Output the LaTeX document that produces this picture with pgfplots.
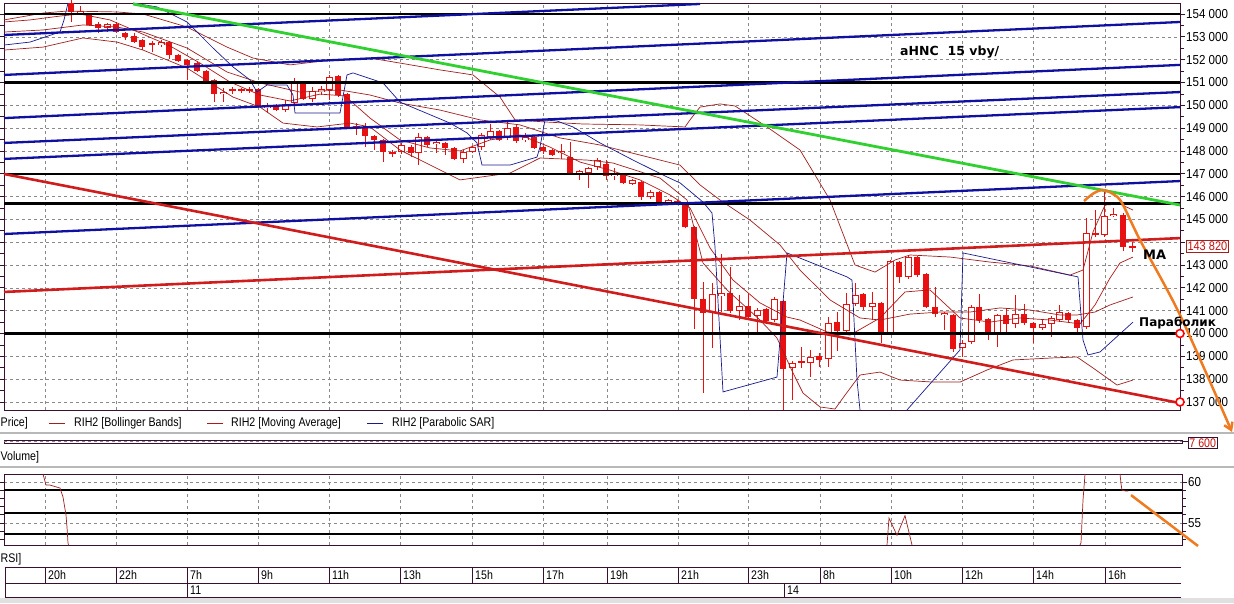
\documentclass[border=0pt]{standalone}
\usepackage{fontspec}
\setmainfont{Liberation Sans}
\newfontfamily\dvs{DejaVu Sans}
\usepackage{graphicx}
\usepackage{pgfplots}
\pgfplotsset{compat=1.18}
\usepackage{pgfplotstable}
\usetikzlibrary{arrows.meta}

\definecolor{frame}{HTML}{3A1030}
\definecolor{cred}{HTML}{E81010}
\definecolor{bbred}{HTML}{A02020}
\definecolor{sar}{HTML}{1A1A90}
\definecolor{tblue}{HTML}{1010A0}
\definecolor{tgreen}{HTML}{30D030}
\definecolor{tred}{HTML}{D01C1C}
\definecolor{orng}{HTML}{F07A20}
\definecolor{gridc}{HTML}{8A8A8A}
\definecolor{sepgray}{HTML}{B8B8B8}

\newcommand\lgf{\fontsize{12.5}{13}\selectfont}
\newcommand\ct[1]{\scalebox{0.85}[1]{\lgf #1}}
\newcommand\tl[1]{\scalebox{0.89}[1]{#1}}

% bearish candles: x open high low close
\pgfplotstableread{
x o h l c
71 154480 154610 153650 154090
89 153960 154000 153470 153520
98 153560 153650 153170 153390
116 153560 153650 153170 153210
125 153170 153210 152860 152990
134 153040 153170 152730 152770
142 152860 152900 152420 152550
152 152730 152820 152330 152640
169 152770 152820 152030 152200
178 152200 152250 151900 151940
187 151980 152030 151110 151770
197 151850 151900 151460 151500
206 151500 151550 150930 151020
214 151110 151150 150140 150490
258 150710 150760 149880 149920
276 150010 150060 149750 149790
303 151020 151060 150230 150280
338 151280 151330 150360 150450
347 150490 150540 148960 149000
365 149000 149220 148170 148650
374 148650 148700 148040 148480
383 148480 148520 147510 147950
411 148170 148260 147730 147910
427 148610 148650 148170 148260
445 148350 148390 147820 148130
454 148130 148170 147600 147650
499 148870 148920 148430 148480
516 149050 149180 148350 148430
534 148610 148650 148080 148130
543 148170 148220 147870 148000
552 148040 148080 147780 147820
570 147730 148390 146990 147030
606 147430 147600 146730 146900
623 146990 147030 146550 146590
641 146640 146680 145850 145980
659 146200 146240 145670 145760
677 145810 145850 145630 145670
685 145630 145670 144620 144670
694 144670 144710 140200 141510
703 141510 142260 137390 140900
730 141770 142910 140900 140990
748 141200 141730 140630 140720
766 141070 141120 140460 140550
783 141420 141470 136650 138440
819 139010 139150 138530 138840
837 140500 140940 139230 140110
863 141730 141770 141030 141160
881 141340 141380 139580 140020
899 143130 143180 142210 142480
917 143350 143400 142480 142560
926 142610 142650 141120 141160
935 141160 142040 140720 140850
953 140810 140850 139190 139320
979 141160 141730 140460 140590
988 140630 140680 139710 140020
1006 140810 141120 139930 140420
1024 140850 141290 140370 140460
1033 140460 140500 139580 140240
1068 140900 140940 140460 140590
1077 140590 140630 140070 140240
1123 145190 145280 143610 143790
}\bear

% bullish candles: x open high low close
\pgfplotstableread{
x o h l c
80 154040 154350 153960 154130
107 153390 153610 153210 153560
161 152640 152860 152550 152770
223 150490 150760 150140 150580
232 150630 150800 150490 150710
241 150630 150760 150540 150710
249 150630 150800 150540 150710
267 149880 150100 149660 149970
285 149790 150230 149710 150060
294 150100 151200 150010 151020
312 150280 150800 150140 150630
321 150580 150840 150450 150710
329 150670 151330 150230 151240
356 149000 149220 148700 149090
392 147870 148040 147730 147950
401 147950 148350 147870 148260
418 147910 148790 147380 148610
436 148300 148430 147910 148390
463 147650 148040 147470 147950
472 147950 148220 147910 148170
481 148170 148790 148040 148700
490 148610 149180 148480 148870
507 148610 149270 148480 149000
525 148480 148790 148390 148610
561 147910 148300 147650 148000
579 147030 147160 146730 147120
588 147030 147300 146380 147250
597 147300 147690 147160 147600
614 146900 147250 146730 147030
632 146550 146770 146510 146730
650 145980 146290 145890 146200
668 145760 145890 145720 145850
712 140940 142210 139360 141730
721 141640 143480 140940 141770
739 140990 141690 140590 141200
757 140770 141120 140020 141030
774 140590 141600 140500 141510
792 138490 138790 137090 138710
801 138710 139410 138490 138790
810 138710 139280 138090 138970
828 138880 140720 138530 140460
846 140110 141770 140020 141290
855 141290 142210 141200 141690
872 141160 141820 140590 141340
890 140020 143220 139930 143180
908 142480 143400 142390 143350
944 140810 140940 140150 140900
962 139360 139710 138970 139580
971 139630 141250 139540 141160
997 140020 140850 139410 140810
1015 140420 141690 140240 140850
1042 140240 140630 140150 140420
1051 140420 140770 139850 140680
1059 140590 141250 140500 140940
1086 140280 145060 140200 144400
1095 144320 145410 144230 144400
1104 144320 146200 144230 145150
1113 145150 145500 145100 145240
1132 143750 144010 143570 143820
}\bull

\pgfplotsset{
  chartaxis/.style={
    scale only axis, clip=false,
    scaled y ticks=false, scaled x ticks=false,
    axis line style={frame, line width=0.8pt},
    tick style={frame, line width=0.7pt},
    tick align=outside, ytick pos=both, yticklabel pos=right,
    major tick length=5pt, minor tick length=4pt,
    xtick={45,116,187,258,329,400,472,543,607,678,748,820,891,962,1033,1105},
    xticklabels={}, xmajorticks=false,
    xmajorgrids=true, ymajorgrids=true,
    major grid style={gridc, dash pattern=on 3pt off 3pt, line width=0.6pt},
    yticklabel style={font=\fontsize{13}{13}\selectfont, inner sep=1pt, text=black},
  },
  wick/.style={draw=none, forget plot, error bars/.cd, y dir=both, y explicit,
    error mark=none, error bar style={draw=cred, line width=1pt, solid}},
  body/.style 2 args={draw=none, forget plot, error bars/.cd, y dir=both, y explicit,
    error mark=none, error bar style={draw=#1, line width=#2, solid}},
}

\begin{document}
\begin{tikzpicture}
\useasboundingbox (0,0) rectangle (1234pt,-603pt);
\fill[white] (0,0) rectangle (1234pt,-603pt);
\begin{scope}[x=1pt,y=-1pt]
  \fill[black!12] (0,598) rectangle (1234,603);
  \draw[sepgray, line width=1.2pt] (0,433) -- (1234,433);
  \draw[sepgray, line width=1.2pt] (0,467) -- (1234,467);
\end{scope}

% ================= MAIN PRICE PANEL =================
\begin{axis}[chartaxis,
  at={(4pt,-3pt)}, anchor=north west,
  width=1176pt, height=407pt,
  xmin=4, xmax=1180, ymin=136647, ymax=154482,
  ytick={137000,138000,139000,140000,141000,142000,143000,144000,145000,146000,147000,148000,149000,150000,151000,152000,153000,154000},
  yticklabels={\tl{137 000},\tl{138 000},\tl{139 000},\tl{140 000},\tl{141 000},\tl{142 000},\tl{143 000},,\tl{145 000},\tl{146 000},\tl{147 000},\tl{148 000},\tl{149 000},\tl{150 000},\tl{151 000},\tl{152 000},\tl{153 000},\tl{154 000}},
  minor y tick num=1,
]
% candles
\addplot[wick] table[x=x, y expr={(\thisrow{h}+\thisrow{l})/2}, y error expr={(\thisrow{h}-\thisrow{l})/2}] {\bear};
\addplot[wick] table[x=x, y expr={(\thisrow{h}+\thisrow{l})/2}, y error expr={(\thisrow{h}-\thisrow{l})/2}] {\bull};
\addplot[body={cred}{6.5pt}] table[x=x, y expr={(\thisrow{o}+\thisrow{c})/2}, y error expr={max(abs(\thisrow{o}-\thisrow{c})/2,30)}] {\bear};
\addplot[body={cred}{7pt}] table[x=x, y expr={(\thisrow{o}+\thisrow{c})/2}, y error expr={max(abs(\thisrow{o}-\thisrow{c})/2,30)}] {\bull};
\addplot[body={white}{5pt}] table[x=x, y expr={(\thisrow{o}+\thisrow{c})/2}, y error expr={max(abs(\thisrow{o}-\thisrow{c})/2-44,0)}] {\bull};

% Bollinger upper
\addplot[bbred, line width=0.7pt] coordinates {(4,153740)(43,154040)(67,154130)(117,154090)(143,154000)(187,153430)(227,152550)(253,152070)(290,151770)(330,151980)(370,152070)(400,151850)(440,151550)(473,151330)(500,150360)(515,149360)(545,149270)(583,149180)(640,149140)(685,149050)(690,149360)(700,149920)(720,150060)(735,149970)(767,149050)(800,148040)(830,145850)(855,143000)(875,142690)(895,143220)(910,143440)(950,143350)(990,143130)(1030,142960)(1070,142560)(1083,142780)(1093,144450)(1105,145630)(1120,145670)(1133,145410)};
% Bollinger middle
\addplot[bbred, line width=0.7pt] coordinates {(4,153210)(43,153300)(83,153520)(117,153430)(143,153210)(187,152510)(227,151460)(260,150980)(300,150580)(340,150670)(370,150450)(400,150100)(440,149790)(480,149360)(520,149140)(560,148570)(600,148260)(640,147820)(680,147380)(700,146510)(720,145850)(750,144970)(780,143880)(800,142780)(830,141470)(860,140680)(880,140590)(910,140850)(940,140940)(970,140940)(1000,141120)(1030,141030)(1060,140810)(1077,140810)(1095,140940)(1110,141250)(1133,141600)};
% Bollinger lower
\addplot[bbred, line width=0.7pt] coordinates {(4,152420)(43,152550)(83,152950)(117,152770)(143,152420)(187,151630)(233,150360)(260,149920)(283,149220)(317,149050)(350,149220)(370,149050)(400,148040)(460,146730)(510,147030)(540,147690)(587,147600)(613,147470)(660,146810)(687,145850)(703,143090)(727,141910)(760,140590)(777,139800)(793,138270)(803,137390)(820,136780)(835,136690)(845,137300)(860,138180)(880,138310)(900,137960)(933,137870)(960,137870)(987,138400)(1013,138840)(1053,138930)(1077,138970)(1093,138490)(1117,137740)(1133,137960)};
% Moving average
\addplot[tred!85!black, line width=0.7pt] coordinates {(4,153650)(30,153740)(60,153910)(80,154000)(110,153740)(140,153170)(170,152600)(200,151850)(230,151020)(260,150450)(290,150190)(320,150490)(345,150410)(370,149440)(400,148480)(430,148130)(460,148000)(490,148480)(520,148700)(550,148170)(580,147510)(610,147160)(640,146730)(670,146070)(690,145500)(710,143750)(733,142340)(760,141340)(787,140720)(800,140590)(827,140070)(850,139930)(880,140680)(905,141820)(930,141910)(960,140680)(990,140500)(1020,140680)(1050,140590)(1080,140420)(1095,141250)(1110,142430)(1120,143090)(1133,143350)};
% Parabolic SAR
\addplot[sar, line width=0.7pt] coordinates {(4,152640)(30,152770)(60,153210)(64,153740)(68,154480)};
\addplot[sar, line width=0.7pt] coordinates {(133,154480)(157,154310)(187,153650)(213,152510)(233,151680)(250,151110)(257,150580)(267,150890)(287,150890)(293,150450)(295,149660)(340,149660)(347,151330)(353,151420)(383,150980)(400,150140)(450,149220)(467,148790)(477,148350)(482,147380)(510,147380)(537,147730)(540,148170)(545,149360)(557,149310)(573,149050)(600,148350)(633,147600)(667,146860)(680,146600)(703,145760)(712,145280)(715,143790)(723,137440)(777,138090)(787,143530)(847,142480)(852,142340)(857,137960)(860,136650)};
\addplot[sar, line width=0.7pt] coordinates {(907,136650)(960,139280)(963,143530)(1078,142480)(1083,139710)(1088,139060)(1100,139190)(1133,140500)};

% horizontal black levels
\addplot[black, line width=2.4pt] coordinates {(4,154000)(1180,154000)};
\addplot[black, line width=2.4pt] coordinates {(4,151000)(1180,151000)};
\addplot[black, line width=2.4pt] coordinates {(4,147000)(1180,147000)};
\addplot[black, line width=2.4pt] coordinates {(4,145700)(1180,145700)};
\addplot[black, line width=2.4pt] coordinates {(4,140000)(1180,140000)};
% blue channel lines
\addplot[tblue, line width=2.3pt] coordinates {(4,153080)(700,154440)};
\addplot[tblue, line width=2.3pt] coordinates {(4,151330)(1180,153650)};
\addplot[tblue, line width=2.3pt] coordinates {(4,149440)(1180,151770)};
\addplot[tblue, line width=2.3pt] coordinates {(4,148350)(1180,150580)};
\addplot[tblue, line width=2.3pt] coordinates {(4,147650)(1180,149920)};
\addplot[tblue, line width=2.3pt] coordinates {(4,144360)(1180,146680)};
% green trend line
\addplot[tgreen, line width=2.8pt] coordinates {(133,154440)(1180,145630)};
% red trend lines
\addplot[tred, line width=2.6pt] coordinates {(4,146990)(1180,136950)};
\addplot[tred, line width=2.6pt] coordinates {(4,141820)(1180,144180)};

% end markers
\addplot[only marks, mark=*, mark size=4pt, mark options={fill=white, draw=red, line width=1.6pt}] coordinates {(1180,140000)(1180,137000)};

% last price box
\node[draw=bbred, fill=white, text=cred!85!black, inner sep=1.3pt, anchor=west, font=\fontsize{12.5}{13}\selectfont] at (axis cs:1186,143830) {\scalebox{0.88}[1]{143 820}};

% orange forecast arrow
\addplot[orng, line width=2.5pt, smooth, tension=0.5, -{Straight Barb[length=7pt, width=9pt]}] coordinates {(1084,145805)(1094,146156)(1103,146287)(1113,146112)(1122,145718)(1140,144096)(1180,140810)(1232,135683)};

% annotations
\node[anchor=west, inner sep=0] at (axis cs:900,152330) {\dvs\bfseries\fontsize{12.5}{14}\selectfont aHNC\hspace{9pt}15 vby/};
\node[anchor=west, inner sep=0] at (axis cs:1143,143440) {\dvs\bfseries\fontsize{13}{14}\selectfont MA};
\node[anchor=west, inner sep=0] at (axis cs:1139,140480) {\dvs\bfseries\fontsize{12}{14}\selectfont Параболик};
\end{axis}

% ================= RSI PANEL =================
\begin{axis}[chartaxis,
  at={(4pt,-474pt)}, anchor=north west,
  width=1178pt, height=71pt,
  xmin=4, xmax=1182, ymin=52.32, ymax=60.98,
  ytick={55,60}, yticklabels={\tl{55},\tl{60}},
  minor ytick={53,54,56,57,58,59},
]
\addplot[black, line width=2.2pt] coordinates {(4,59.0)(1182,59.0)};
\addplot[black, line width=2.2pt] coordinates {(4,56.2)(1182,56.2)};
\addplot[black, line width=2.2pt] coordinates {(4,53.66)(1182,53.66)};
\addplot[bbred, line width=0.7pt] coordinates {(43,60.98)(46,59.63)(50,59.63)(60,59.27)(63,58.17)(66,55.98)(67,54.5)(68,52.56)(68.5,52.32)};
\addplot[bbred, line width=0.7pt] coordinates {(887,52.32)(889,55.6)(897,53.5)(905,55.9)(912,52.32)};
\addplot[bbred, line width=0.7pt] coordinates {(1080,52.32)(1081,52.6)(1083,57.8)(1085,60.98)};
\addplot[bbred, line width=0.7pt] coordinates {(1120,60.98)(1121,59.8)(1122,59.0)(1126,58.9)(1128,58.9)};
\addplot[orng, line width=2.5pt] coordinates {(1131,58.41)(1198,52.2)};
\end{axis}

% ================= LEGEND, VOLUME, TIME AXIS =================
\begin{scope}[x=1pt,y=-1pt]
  % legend row
  \node[anchor=west, inner sep=0] at (0.5,423) {\ct{Price]}};
  \draw[bbred, line width=1pt] (49,423) -- (65,423);
  \node[anchor=west, inner sep=0] at (74,423) {\ct{RIH2 [Bollinger Bands]}};
  \draw[tred!85!black, line width=1pt] (207,423) -- (223,423);
  \node[anchor=west, inner sep=0] at (231,423) {\ct{RIH2 [Moving Average]}};
  \draw[sar, line width=1pt] (367,423) -- (383,423);
  \node[anchor=west, inner sep=0] at (392,423) {\ct{RIH2 [Parabolic SAR]}};
  % volume strip
  \draw[frame, line width=0.7pt] (4,440) rectangle (1182,443);
  \draw[gridc, dash pattern=on 3pt off 3pt, line width=0.5pt] (4,441.5) -- (1182,441.5);
  \draw[frame, line width=0.7pt] (1182,441.5) -- (1188,441.5);
  \node[draw=frame, fill=white, text=cred!85!black, inner sep=1.2pt, anchor=west] at (1188,443) {\ct{7 600}};
  \node[anchor=west, inner sep=0] at (0.5,457) {\ct{Volume]}};
  \node[anchor=west, inner sep=0] at (0.5,559) {\ct{RSI]}};
  % time table
  \draw[frame, line width=0.8pt] (5,567) -- (1181,567);
  \draw[frame, line width=0.8pt] (5,583) -- (1181,583);
  \draw[frame, line width=0.8pt] (5,597) -- (1181,597);
  \draw[frame, line width=0.8pt] (5,567) -- (5,597);
  \foreach \xx/\lab in {45/20h,116/22h,187/7h,258/9h,329/11h,400/13h,472/15h,543/17h,607/19h,678/21h,748/23h,820/8h,891/10h,962/12h,1033/14h,1105/16h}{
    \draw[frame, line width=0.8pt] (\xx,567) -- (\xx,583);
    \node[anchor=west, inner sep=0] at (\xx+3,575) {\ct{\lab}};
  }
  \draw[frame, line width=0.8pt] (187,583) -- (187,597);
  \draw[frame, line width=0.8pt] (784,583) -- (784,597);
  \node[anchor=west, inner sep=0] at (190,590) {\ct{11}};
  \node[anchor=west, inner sep=0] at (787,590) {\ct{14}};
\end{scope}
\end{tikzpicture}
\end{document}
